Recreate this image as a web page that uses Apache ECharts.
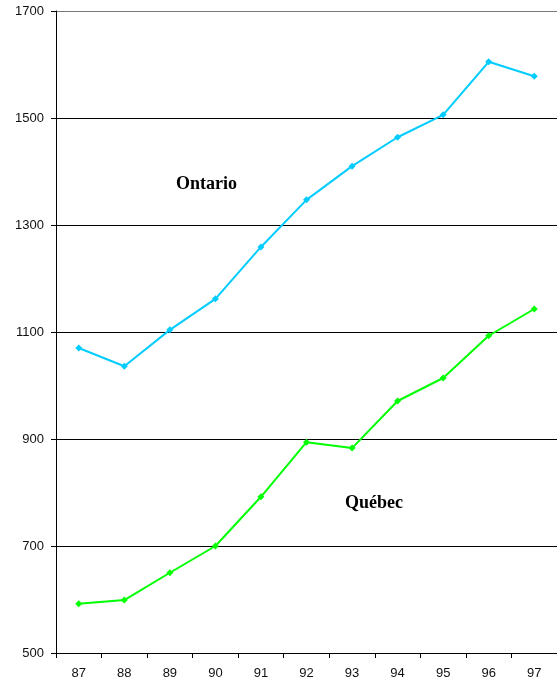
<!DOCTYPE html>
<html>
<head>
<meta charset="utf-8">
<script src="https://cdn.jsdelivr.net/npm/echarts@6/dist/echarts.min.js"></script>
<style>
  html, body { margin: 0; padding: 0; background: #fff; }
  #chart { width: 557px; height: 687px; }
</style>
</head>
<body>
<div id="chart"></div>
<script>
// years on the x axis
const years = ['87', '88', '89', '90', '91', '92', '93', '94', '95', '96', '97'];
// values
const ontario = [1070, 1036, 1104, 1162, 1259, 1347, 1410, 1464, 1506, 1605, 1578];
const quebec = [592, 599, 650, 700, 792, 894, 883, 971, 1014, 1093, 1143];

const chart = echarts.init(document.getElementById('chart'));

const lineSeries = (name, data, color) => ({
  name,
  type: 'line',
  data,
  symbol: 'diamond',
  symbolSize: 7,
  lineStyle: { color, width: 2 },
  itemStyle: { color },
  animation: false
});

chart.setOption({
  animation: false,
  grid: { left: 56, right: 0, top: 11, bottom: 34 },
  xAxis: {
    type: 'category',
    data: years,
    boundaryGap: true,
    axisLine: { lineStyle: { color: '#000', width: 1 } },
    axisTick: { show: true, length: 5, lineStyle: { color: '#000' } },
    axisLabel: { color: '#111', fontSize: 13, fontFamily: 'Liberation Sans', margin: 14 }
  },
  yAxis: {
    type: 'value',
    min: 500,
    max: 1700,
    interval: 200,
    axisLine: { show: true, lineStyle: { color: '#000', width: 1 } },
    axisTick: { show: true, length: 5, lineStyle: { color: '#000' } },
    axisLabel: {
      color: '#111', fontSize: 13, fontFamily: 'Liberation Sans', margin: 12,
      formatter: v => String(v)
    },
    splitLine: {
      lineStyle: { color: ['#000', '#000', '#000', '#000', '#000', '#000', '#777'], width: 1 }
    }
  },
  graphic: [
    {
      type: 'text', left: 176, top: 175,
      style: { text: 'Ontario', font: 'bold 18px "Liberation Serif"', fill: '#000' }
    },
    {
      type: 'text', left: 345, top: 494,
      style: { text: 'Québec', font: 'bold 18px "Liberation Serif"', fill: '#000' }
    }
  ],
  series: [
    lineSeries('Ontario', ontario, '#00ccff'),
    lineSeries('Québec', quebec, '#00ff00')
  ]
});
</script>
</body>
</html>
